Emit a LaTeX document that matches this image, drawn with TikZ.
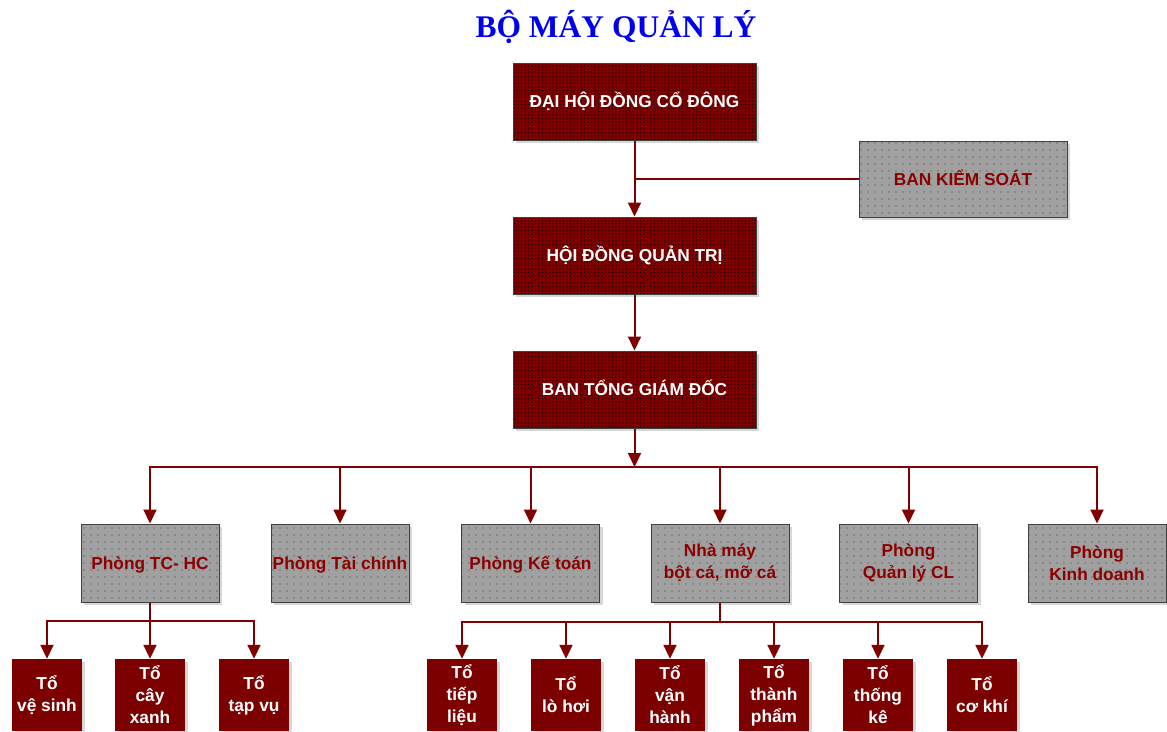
\documentclass[tikz,border=0pt]{standalone}
\usepackage{fontspec}
\setmainfont{Liberation Sans}
\newfontfamily\titlefont{Liberation Serif}
\usetikzlibrary{arrows.meta,patterns,shadows}
\pgfdeclarepatternformonly{reddots}{\pgfqpoint{-1pt}{-1pt}}{\pgfqpoint{1pt}{1pt}}{\pgfqpoint{3.5pt}{3.5pt}}{\pgfpathcircle{\pgfpointorigin}{0.55pt}\pgfusepath{fill}}
\pgfdeclarepatternformonly{graydots}{\pgfqpoint{-1pt}{-1pt}}{\pgfqpoint{1pt}{1pt}}{\pgfqpoint{7pt}{7pt}}{\pgfpathcircle{\pgfpointorigin}{0.85pt}\pgfusepath{fill}}
\definecolor{boxred}{RGB}{125,0,0}
\definecolor{linered}{RGB}{128,0,0}
\definecolor{txtred}{RGB}{140,0,0}
\definecolor{boxgray}{RGB}{160,160,160}
\definecolor{dotgray}{RGB}{112,112,112}
\definecolor{bordergray}{RGB}{64,64,64}
\definecolor{shadowgray}{RGB}{215,215,215}
\definecolor{titleblue}{RGB}{0,0,240}
\begin{document}
\begin{tikzpicture}[x=1pt,y=-1pt,
  shad/.style={drop shadow={shadow xshift=3pt,shadow yshift=-3pt,fill=shadowgray,opacity=1}},
  boxtext/.style={font=\bfseries\fontsize{17.3}{22}\selectfont, align=center, inner sep=0pt},
  oneline/.style={text height=12.4pt, text depth=0pt},
  redbox/.style={boxtext, shad, preaction={fill=boxred}, pattern=reddots, pattern color=black,
    draw=bordergray, line width=1pt, text=white, minimum width=243pt, minimum height=77pt},
  graybox/.style={boxtext, shad, preaction={fill=boxgray}, pattern=graydots, pattern color=dotgray,
    draw=bordergray, line width=1pt, text=txtred, minimum width=138pt, minimum height=78pt},
  teambox/.style={boxtext, shad, fill=boxred, text=white, minimum width=70pt, minimum height=72pt},
  conn/.style={draw=linered, line width=2pt},
  arr/.style={conn, -{Triangle[width=13pt,length=14pt]}},
  arrboth/.style={conn, {Triangle[width=13pt,length=14pt]}-{Triangle[width=13pt,length=14pt]}}
]
\useasboundingbox (0,0) rectangle (1167,731);

% title
\node[anchor=base, font=\titlefont\bfseries\fontsize{31.5}{36}\selectfont, text=titleblue, inner sep=0pt]
  (title) at (616,37.7) {BỘ MÁY QUẢN LÝ};

% top chain
\node[redbox, oneline] (dhdc) at (634.5,101.5) {ĐẠI HỘI ĐỒNG CỔ ĐÔNG};
\node[redbox, oneline] (hdqt) at (634.5,255.5) {HỘI ĐỒNG QUẢN TRỊ};
\node[redbox, oneline] (btgd) at (634.5,389.5) {BAN TỔNG GIÁM ĐỐC};
\node[graybox, oneline, minimum width=208pt, minimum height=76pt] (bks) at (963,179) {BAN KIỂM SOÁT};

% departments
\node[graybox, oneline] (p1) at (150,563) {Phòng TC- HC};
\node[graybox, oneline] (p2) at (340,563) {Phòng Tài chính};
\node[graybox, oneline] (p3) at (530.5,563) {Phòng Kế toán};
\node[graybox] (p4) at (720,563) {Nhà máy\\bột cá, mỡ cá};
\node[graybox] (p5) at (908.5,563) {Phòng\\Quản lý CL};
\node[graybox] (p6) at (1097,563) {Phòng\\Kinh doanh};

% teams under TC-HC
\node[teambox] (t1) at (47,695) {Tổ\\vệ sinh};
\node[teambox] (t2) at (150,695) {Tổ\\cây\\xanh};
\node[teambox] (t3) at (254,695) {Tổ\\tạp vụ};

% teams under factory
\node[teambox] (r1) at (462,695) {Tổ\\tiếp\\liệu};
\node[teambox] (r2) at (566,695) {Tổ\\lò hơi};
\node[teambox] (r3) at (670,695) {Tổ\\vận\\hành};
\node[teambox] (r4) at (774,695) {Tổ\\thành\\phẩm};
\node[teambox] (r5) at (878,695) {Tổ\\thống\\kê};
\node[teambox] (r6) at (982,695) {Tổ\\cơ khí};

\coordinate (bus) at (634.5,467);
\coordinate (lb) at (150,621);
\coordinate (rb) at (720,622);

% connectors
\draw[arr] (dhdc.south) -- (hdqt.north);
\draw[conn] (bks.west) -- (bks.west -| dhdc.south);
\draw[arr] (hdqt.south) -- (btgd.north);
\draw[arr] (btgd.south) -- (bus);
\draw[arrboth] (p1.north) -- (p1.north |- bus) -- (p6.north |- bus) -- (p6.north);
\foreach \i in {2,3,4,5} \draw[arr] (p\i.north |- bus) -- (p\i.north);

\draw[arr] (p1.south) -- (t2.north);
\draw[arrboth] (t1.north) -- (t1.north |- lb) -- (t3.north |- lb) -- (t3.north);

\draw[conn] (p4.south) -- (rb);
\draw[arrboth] (r1.north) -- (r1.north |- rb) -- (r6.north |- rb) -- (r6.north);
\foreach \i in {2,3,4,5} \draw[arr] (r\i.north |- rb) -- (r\i.north);
\end{tikzpicture}
\end{document}
